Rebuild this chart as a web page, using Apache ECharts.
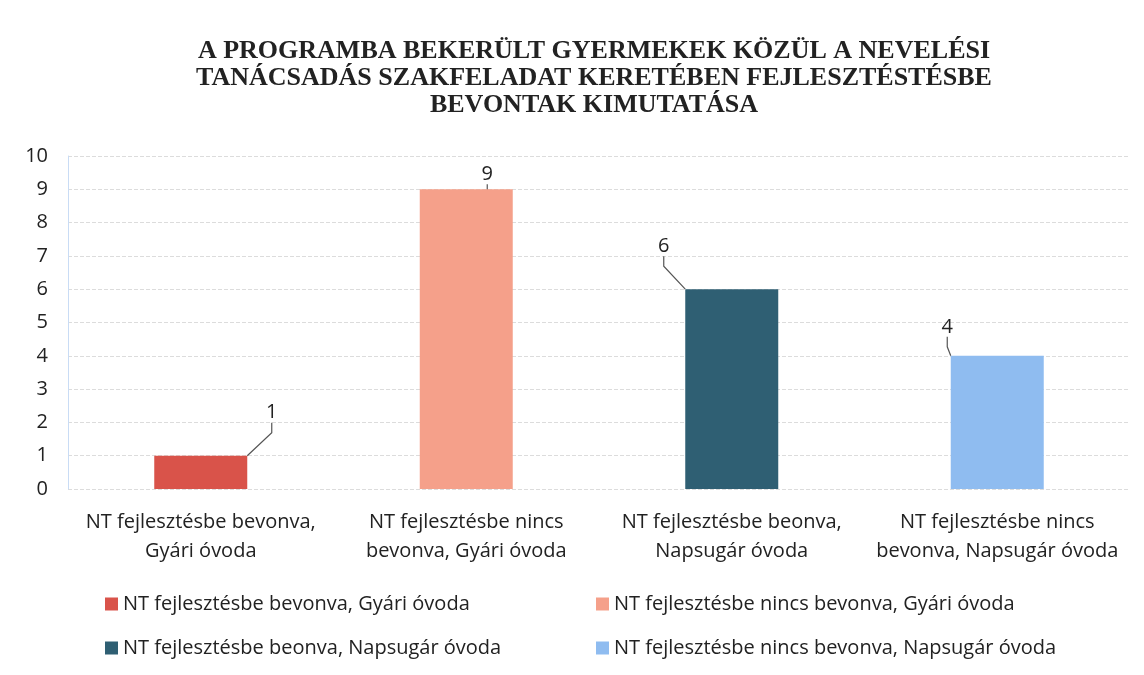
<!DOCTYPE html>
<html>
<head>
<meta charset="utf-8">
<script src="https://cdn.jsdelivr.net/npm/echarts@6/dist/echarts.min.js"></script>
<style>
html, body { margin: 0; padding: 0; background: #fff; }
#main { width: 1144px; height: 675px; }
</style>
</head>
<body>
<div id="main"></div>
<script>
var categories = [
    'NT fejlesztésbe bevonva,\nGyári óvoda',
    'NT fejlesztésbe nincs\nbevonva, Gyári óvoda',
    'NT fejlesztésbe beonva,\nNapsugár óvoda',
    'NT fejlesztésbe nincs\nbevonva, Napsugár óvoda'
];
var seriesNames = [
    'NT fejlesztésbe bevonva, Gyári óvoda',
    'NT fejlesztésbe nincs bevonva, Gyári óvoda',
    'NT fejlesztésbe beonva, Napsugár óvoda',
    'NT fejlesztésbe nincs bevonva, Napsugár óvoda'
];
var values = [1, 9, 6, 4];
var colors = ['#d9534a', '#f5a08a', '#2f5f73', '#8fbcf0'];
// label offsets (leader lines)
var labelShift = [[71, -28], [21, 0], [-68, -28], [-50, -14]];

var myChart = echarts.init(document.getElementById('main'));
var font = '"Open Sans", "Noto Sans", sans-serif';

var series = [];
for (var i = 0; i < values.length; i++) {
    var d = [];
    for (var j = 0; j < values.length; j++) d.push(j === i ? values[i] : '-');
    series.push({
        name: seriesNames[i],
        type: 'bar',
        stack: 'all',
        barWidth: 93,
        data: d,
        itemStyle: { color: colors[i] },
        label: {
            show: true,
            position: 'top',
            color: '#222',
            fontSize: 20,
            fontFamily: font
        },
        labelLayout: { dx: labelShift[i][0], dy: labelShift[i][1] },
        labelLine: {
            show: true,
            length2: 10,
            lineStyle: { color: '#555', width: 1.2 }
        }
    });
}

option = {
    backgroundColor: '#fff',
    animation: false,
    title: {
        text: 'A PROGRAMBA BEKERÜLT GYERMEKEK KÖZÜL A NEVELÉSI\nTANÁCSADÁS SZAKFELADAT KERETÉBEN FEJLESZTÉSTÉSBE\nBEVONTAK KIMUTATÁSA',
        left: 589,
        top: 33,
        textAlign: 'center',
        textStyle: {
            fontFamily: '"Liberation Serif", "DejaVu Serif", serif',
            fontWeight: 'bold',
            fontSize: 26,
            lineHeight: 27,
            color: '#222'
        }
    },
    legend: [
        {
            data: [seriesNames[0], seriesNames[2]],
            orient: 'vertical',
            left: 100,
            top: 588,
            itemWidth: 13,
            itemHeight: 13,
            itemGap: 22,
            icon: 'rect',
            textStyle: { fontSize: 20, lineHeight: 22, fontFamily: font, color: '#222' }
        },
        {
            data: [seriesNames[1], seriesNames[3]],
            orient: 'vertical',
            left: 591,
            top: 588,
            itemWidth: 13,
            itemHeight: 13,
            itemGap: 22,
            icon: 'rect',
            textStyle: { fontSize: 20, lineHeight: 22, fontFamily: font, color: '#222' }
        }
    ],
    grid: {
        left: 68,
        right: 14,
        top: 156,
        bottom: 186,
        containLabel: false
    },
    xAxis: {
        type: 'category',
        data: categories,
        axisLine: { show: false },
        axisTick: { show: false },
        axisLabel: {
            interval: 0,
            margin: 19,
            fontSize: 20,
            lineHeight: 29,
            fontFamily: font,
            color: '#222'
        }
    },
    yAxis: {
        type: 'value',
        min: 0,
        max: 10,
        interval: 1,
        axisLine: { show: true, lineStyle: { color: '#c9dcf5' } },
        axisTick: { show: false },
        axisLabel: {
            margin: 20,
            fontSize: 20,
            fontFamily: font,
            color: '#222'
        },
        splitLine: { lineStyle: { color: '#dcdcdc', type: 'dashed' } }
    },
    series: series
};
myChart.setOption(option);
</script>
</body>
</html>
